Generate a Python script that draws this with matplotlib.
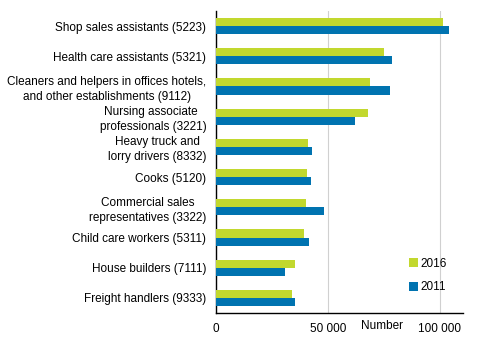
import matplotlib.pyplot as plt
import numpy as np

plt.rcParams['font.family'] = ['Liberation Sans', 'DejaVu Sans']
plt.rcParams['font.size'] = 8.5

occupations = ['Shop sales assistants (5223)',
               'Health care assistants (5321)',
               'Cleaners and helpers in offices hotels,\nand other establishments (9112)',
               'Nursing associate \nprofessionals (3221)',
               'Heavy truck and\nlorry drivers (8332)',
               'Cooks (5120)',
               'Commercial sales\nrepresentatives (3322)',
               'Child care workers (5311)',
               'House builders (7111)',
               'Freight handlers (9333)']
y2016 = [101500, 75200, 68900, 68000, 41100, 40700, 40200, 39300, 35300, 34000]
y2011 = [104300, 78800, 77900, 62200, 42900, 42500, 48300, 41600, 30800, 35300]

green = '#c2d82e'
blue = '#0073b0'

fig = plt.figure(figsize=(4.92, 3.40), dpi=100)
ax = fig.add_axes([216/492, 1 - 313/340, 247/492, 302/340])

pos = np.arange(len(occupations))
h = 0.27
ax.barh(pos - h/2, y2016, height=h, color=green, label='2016', zorder=3)
ax.barh(pos + h/2, y2011, height=h, color=blue, label='2011', zorder=3)

ax.set_ylim(len(occupations) - 0.5, -0.5)
ax.set_yticks(pos)
ax.set_yticklabels(occupations, multialignment='center', linespacing=1.3)
ax.tick_params(axis='y', length=0, pad=7)
ax.set_xlim(0, 110500)
ax.set_xticks([0, 50000, 100000])
ax.set_xticklabels(['0', '50 000', '100 000'])
ax.tick_params(axis='x', length=0, pad=7)
ax.grid(axis='x', color='#d0d0d0', linewidth=0.8, zorder=0)
for s in ['top', 'right']:
    ax.spines[s].set_visible(False)
ax.spines['left'].set_linewidth(1)
ax.spines['bottom'].set_linewidth(1)

ax.text(0.672, -0.042, 'Number', transform=ax.transAxes, ha='center', va='center')

ax.legend(loc='lower left', bbox_to_anchor=(0.74, 0.03), frameon=False,
          handlelength=0.75, handleheight=0.75, handletextpad=0.15, labelspacing=1.0)

fig.savefig('out.png', dpi=100)
